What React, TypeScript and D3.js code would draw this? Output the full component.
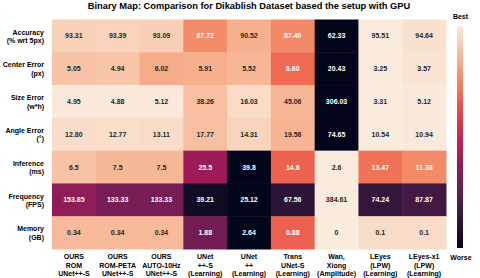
import React, { useEffect, useRef } from 'react';
import * as d3 from 'd3';

// metrics (rows), methods (columns)
const rowLabels = [
    ['Accuracy', '(% wrt 5px)'],
    ['Center Error', '(px)'],
    ['Size Error', '(w*h)'],
    ['Angle Error', '(°)'],
    ['Inference', '(ms)'],
    ['Frequency', '(FPS)'],
    ['Memory', '(GB)']
];
const colLabels = [
    ['OURS', 'ROM', 'UNet++-S'],
    ['OURS', 'ROM-PETA', 'UNet++-S'],
    ['OURS', 'AUTO-10Hz', 'UNet++-S'],
    ['UNet', '++-S', '(Learning)'],
    ['UNet', '++', '(Learning)'],
    ['Trans', 'UNet-S', '(Learning)'],
    ['Wan,', 'Xiong', '(Amplitude)'],
    ['LEyes', '(LPW)', '(Learning)'],
    ['LEyes-x1', '(LPW)', '(Learning)']
];
const accuracy = [93.31, 93.39, 93.09, 87.72, 90.52, 87.40, 62.33, 95.51, 94.64];
const centerError = [5.05, 4.94, 6.02, 5.91, 5.52, 8.60, 20.43, 3.25, 3.57];
const sizeError = [4.95, 4.88, 5.12, 38.26, 16.03, 45.06, 306.03, 3.31, 5.12];
const angleError = [12.80, 12.77, 13.11, 17.77, 14.31, 19.56, 74.65, 10.54, 10.94];
const inference = [6.5, 7.5, 7.5, 25.5, 39.8, 14.8, 2.6, 13.47, 11.38];
const frequency = [153.85, 133.33, 133.33, 39.21, 25.12, 67.56, 384.61, 74.24, 87.87];
const memory = [0.34, 0.34, 0.34, 1.88, 2.64, 0.88, 0, 0.1, 0.1];
const labelsText = [
    ['93.31', '93.39', '93.09', '87.72', '90.52', '87.40', '62.33', '95.51', '94.64'],
    ['5.05', '4.94', '6.02', '5.91', '5.52', '8.60', '20.43', '3.25', '3.57'],
    ['4.95', '4.88', '5.12', '38.26', '16.03', '45.06', '306.03', '3.31', '5.12'],
    ['12.80', '12.77', '13.11', '17.77', '14.31', '19.56', '74.65', '10.54', '10.94'],
    ['6.5', '7.5', '7.5', '25.5', '39.8', '14.8', '2.6', '13.47', '11.38'],
    ['153.85', '133.33', '133.33', '39.21', '25.12', '67.56', '384.61', '74.24', '87.87'],
    ['0.34', '0.34', '0.34', '1.88', '2.64', '0.88', '0', '0.1', '0.1']
];
const higherIsBetter = [true, false, false, false, false, true, false];

// seaborn "rocket"
const rocket = d3.interpolateRgbBasis([
    '#03051a', '#35193e', '#701f57', '#ad1759', '#e13342', '#f37651', '#f6b48f', '#faebdd'
]);

const W = 480, H = 278;
const grid = { left: 52, right: 446, top: 19.5, bottom: 249 };
const font = '"Liberation Sans", Arial, sans-serif';

function luminance(c: string) {
    const rgb = d3.rgb(c);
    const f = (v: number) => {
        v = v / 255;
        return v <= 0.03928 ? v / 12.92 : Math.pow((v + 0.055) / 1.055, 2.4);
    };
    return 0.2126 * f(rgb.r) + 0.7152 * f(rgb.g) + 0.0722 * f(rgb.b);
}

export default function App() {
    const ref = useRef<SVGSVGElement>(null);

    useEffect(() => {
        const svg = d3.select(ref.current);
        svg.selectAll('*').remove();
        const rows = [accuracy, centerError, sizeError, angleError, inference, frequency, memory];

        const x = d3.scaleBand<number>().domain(d3.range(colLabels.length))
            .range([grid.left, grid.right]);
        const y = d3.scaleBand<number>().domain(d3.range(rowLabels.length))
            .range([grid.top, grid.bottom]);

        svg.append('text')
            .attr('x', (grid.left + grid.right) / 2)
            .attr('y', 8.8)
            .attr('text-anchor', 'middle')
            .attr('font-family', font)
            .attr('font-weight', 'bold')
            .attr('font-size', 9.3)
            .text('Binary Map: Comparison for Dikablish Dataset based the setup with GPU');

        const cells: { r: number, c: number, t: number }[] = [];
        rows.forEach((vals, r) => {
            const [lo, hi] = d3.extent(vals) as [number, number];
            const s = d3.scaleLinear().domain(higherIsBetter[r] ? [lo, hi] : [hi, lo]).range([0, 1]);
            vals.forEach((v, c) => cells.push({ r, c, t: s(v) }));
        });

        const g = svg.append('g');
        g.selectAll('rect.cell').data(cells).enter().append('rect')
            .attr('class', 'cell')
            .attr('x', d => x(d.c)!)
            .attr('y', d => y(d.r)!)
            .attr('width', x.bandwidth() + 0.5)
            .attr('height', y.bandwidth() + 0.5)
            .attr('fill', d => rocket(d.t));

        g.selectAll('text.val').data(cells).enter().append('text')
            .attr('class', 'val')
            .attr('x', d => x(d.c)! + x.bandwidth() / 2)
            .attr('y', d => y(d.r)! + y.bandwidth() / 2 + 2.5)
            .attr('text-anchor', 'middle')
            .attr('font-family', font)
            .attr('font-weight', 'bold')
            .attr('font-size', 7)
            .attr('fill', d => luminance(rocket(d.t)) > 0.408 ? '#262626' : '#ffffff')
            .text(d => labelsText[d.r][d.c]);

        // row labels
        rowLabels.forEach((lines, r) => {
            const t = svg.append('text')
                .attr('text-anchor', 'end')
                .attr('font-family', font)
                .attr('font-weight', 'bold')
                .attr('font-size', 7);
            lines.forEach((l, i) => {
                t.append('tspan')
                    .attr('x', grid.left - 8)
                    .attr('y', y(r)! + y.bandwidth() / 2 - 1.3 + i * 8.5)
                    .text(l);
            });
        });

        // column labels
        colLabels.forEach((lines, c) => {
            const t = svg.append('text')
                .attr('text-anchor', 'middle')
                .attr('font-family', font)
                .attr('font-weight', 'bold')
                .attr('font-size', 7);
            lines.forEach((l, i) => {
                t.append('tspan')
                    .attr('x', x(c)! + x.bandwidth() / 2)
                    .attr('y', grid.bottom + 10 + i * 8.5)
                    .text(l);
            });
        });

        // colorbar
        const cb = { x: 457, w: 6, y0: 26, y1: 248 };
        const defs = svg.append('defs');
        const grad = defs.append('linearGradient').attr('id', 'cbgrad')
            .attr('x1', 0).attr('y1', 1).attr('x2', 0).attr('y2', 0);
        d3.range(0, 1.0001, 0.05).forEach(t => {
            grad.append('stop').attr('offset', t).attr('stop-color', rocket(t));
        });
        svg.append('rect')
            .attr('x', cb.x).attr('y', cb.y0)
            .attr('width', cb.w).attr('height', cb.y1 - cb.y0)
            .attr('fill', 'url(#cbgrad)');
        svg.append('text')
            .attr('x', cb.x + cb.w / 2 + 0.5).attr('y', 18.5)
            .attr('text-anchor', 'middle')
            .attr('font-family', font).attr('font-weight', 'bold').attr('font-size', 7)
            .text('Best');
        svg.append('text')
            .attr('x', cb.x + cb.w / 2 + 1).attr('y', 259.5)
            .attr('text-anchor', 'middle')
            .attr('font-family', font).attr('font-weight', 'bold').attr('font-size', 7)
            .text('Worse');
    }, []);

    return (
        <svg ref={ref} width={W} height={H}
            style={{ position: 'absolute', left: 0, top: 0, background: '#fff' }} />
    );
}
